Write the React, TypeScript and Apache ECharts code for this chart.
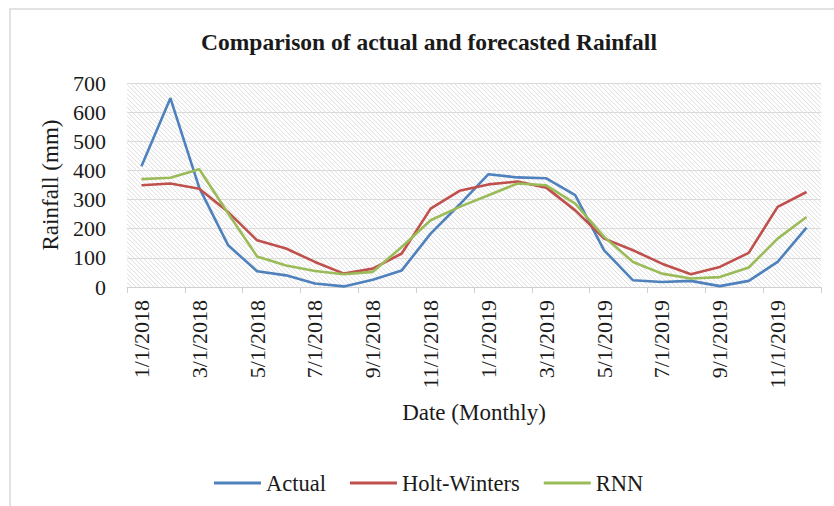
import React, { useEffect, useRef } from "react";
import * as echarts from "echarts";

const categories = [
  "1/1/2018", "2/1/2018", "3/1/2018", "4/1/2018", "5/1/2018", "6/1/2018",
  "7/1/2018", "8/1/2018", "9/1/2018", "10/1/2018", "11/1/2018", "12/1/2018",
  "1/1/2019", "2/1/2019", "3/1/2019", "4/1/2019", "5/1/2019", "6/1/2019",
  "7/1/2019", "8/1/2019", "9/1/2019", "10/1/2019", "11/1/2019", "12/1/2019",
];
const actual = [414, 648, 340, 143, 54, 40, 12, 2, 25, 57, 183, 283, 387, 376, 373, 315, 126, 23, 17, 21, 3, 21, 86, 204];
const holtWinters = [349, 355, 337, 257, 160, 132, 86, 46, 63, 115, 269, 330, 352, 362, 341, 263, 166, 126, 80, 44, 69, 117, 275, 326];
const rnn = [370, 375, 404, 252, 105, 74, 55, 44, 52, 137, 229, 275, 315, 355, 349, 286, 172, 86, 46, 29, 34, 67, 166, 240];

const FONT = "'Liberation Serif', 'Times New Roman', serif";
const TEXT = "#1a1a1a";

export default function App() {
  const ref = useRef<HTMLDivElement>(null);
  useEffect(() => {
    document.body.style.margin = "0";
    const chart = echarts.init(ref.current!, null, { renderer: "svg" });
    const hatch = {
      type: "custom",
      silent: true,
      clip: false,
      z: 0,
      data: [0],
      renderItem: (params: any) => {
        const cs = params.coordSys;
        const L = cs.x, T = cs.y, R = cs.x + cs.width, B = cs.y + cs.height;
        const step = 4.5;
        const children: any[] = [];
        for (let c = L - B; c <= R - T; c += step) {
          const xa = Math.max(L, T + c);
          const xb = Math.min(R, B + c);
          if (xb <= xa) continue;
          children.push({
            type: "line",
            shape: { x1: xa, y1: xa - c, x2: xb, y2: xb - c },
            style: { stroke: "#dedede", lineWidth: 1 },
          });
        }
        return { type: "group", children };
      },
    };
    const lineSeries = (name: string, data: number[], color: string) => ({
      name,
      type: "line",
      data,
      symbol: "none",
      z: 3,
      lineStyle: { color, width: 2.6 },
      itemStyle: { color },
    });
    chart.setOption({
      animation: false,
      backgroundColor: "#ffffff",
      title: {
        text: "Comparison of actual and forecasted Rainfall",
        left: 429,
        textAlign: "center",
        top: 30,
        padding: 0,
        textStyle: { fontFamily: FONT, fontSize: 23.5, fontWeight: "bold", color: TEXT },
      },
      legend: {
        data: ["Actual", "Holt-Winters", "RNN"],
        left: 209,
        top: 466,
        icon: "rect",
        itemWidth: 47,
        itemHeight: 3,
        itemGap: 24,
        textStyle: { fontFamily: FONT, fontSize: 22.5, lineHeight: 24, color: TEXT },
      },
      grid: { left: 127, right: 13, top: 83, bottom: 219, containLabel: false },
      xAxis: {
        type: "category",
        data: categories,
        boundaryGap: true,
        name: "Date (Monthly)",
        nameLocation: "middle",
        nameGap: 114,
        nameTextStyle: { fontFamily: FONT, fontSize: 23, color: TEXT },
        axisLine: { lineStyle: { color: "#d0d0d0", width: 1 } },
        axisTick: { show: true, interval: 1, length: 6, lineStyle: { color: "#d0d0d0" } },
        axisLabel: {
          interval: 1,
          rotate: 90,
          margin: 13,
          fontFamily: FONT,
          fontSize: 22,
          color: TEXT,
        },
        splitLine: { show: false },
      },
      yAxis: {
        type: "value",
        min: 0,
        max: 700,
        interval: 100,
        name: "Rainfall (mm)",
        nameLocation: "middle",
        nameGap: 64,
        nameTextStyle: { fontFamily: FONT, fontSize: 23, color: TEXT },
        axisLine: { show: false },
        axisTick: { show: false },
        axisLabel: { margin: 21, fontFamily: FONT, fontSize: 22, color: TEXT },
        splitLine: { lineStyle: { color: "#d9d9d9", width: 1 } },
      },
      graphic: [
        {
          type: "rect",
          silent: true,
          shape: { x: 10, y: 9, width: 2000, height: 2000 },
          style: { fill: "none", stroke: "#d9d9d9", lineWidth: 1.5 },
        },
      ],
      series: [
        hatch,
        lineSeries("Actual", actual, "#4F81BD"),
        lineSeries("Holt-Winters", holtWinters, "#C0504D"),
        lineSeries("RNN", rnn, "#9BBB59"),
      ],
    });
    return () => chart.dispose();
  }, []);
  return <div ref={ref} style={{ width: 834, height: 506 }} />;
}
